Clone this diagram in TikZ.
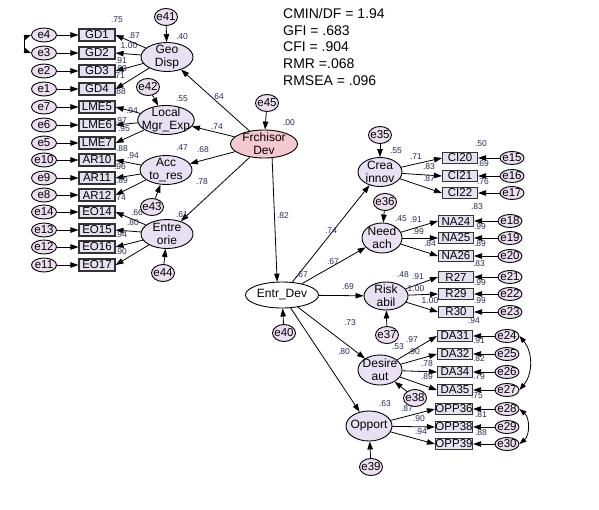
\documentclass[tikz,border=0pt]{standalone}
\usepackage{fontspec}
\setmainfont{Liberation Sans}
\usetikzlibrary{arrows.meta,shapes.geometric}
\definecolor{latfill}{RGB}{233,225,243}
\definecolor{efill}{RGB}{237,222,242}
\definecolor{obsfill}{RGB}{230,225,242}
\definecolor{fdfill}{RGB}{246,200,210}
\definecolor{lblc}{RGB}{35,45,85}
\begin{document}
\begin{tikzpicture}[x=1pt,y=-1pt,
  ev/.style={ellipse,draw,line width=0.9pt,fill=efill,minimum width=25pt,minimum height=14pt,inner sep=-2pt,font=\fontsize{11.5}{11.5}\selectfont},
  eb/.style={ev,minimum width=23pt,minimum height=17pt},
  ob/.style={rectangle,draw=black!80,line width=1.1pt,fill=obsfill,minimum width=36pt,minimum height=12pt,inner sep=0pt,font=\fontsize{11.5}{11.5}\selectfont},
  lat/.style={ellipse,draw,line width=0.9pt,fill=latfill,minimum width=52pt,minimum height=29pt,inner sep=-4pt,align=center,font=\fontsize{12}{13}\selectfont},
  latr/.style={lat,minimum width=45pt,minimum height=30pt},
  lb/.style={font=\fontsize{8.5}{8.5}\selectfont,text=lblc,inner sep=0pt},
  arr/.style={-{Triangle[length=8pt,width=5.5pt]},line width=0.8pt},
  cov/.style={{Triangle[length=7pt,width=5pt]}-{Triangle[length=7pt,width=5pt]},line width=0.8pt},
]
\useasboundingbox (0,0) rectangle (599,509);

% fit indices
\node[anchor=north west,align=left,inner sep=0pt,font=\fontsize{14}{16.7}\selectfont] (fit) at (283,8)
  {CMIN/DF = 1.94\\GFI = .683\\CFI = .904\\RMR =.068\\RMSEA = .096};

% left indicators
\foreach \r/\e/\y in {GD1/e4/35,GD2/e3/53,GD3/e2/71,GD4/e1/89,LME5/e7/107,LME6/e6/125,LME7/e5/143,
  AR10/e10/160,AR11/e9/178,AR12/e8/195,EO14/e14/212,EO15/e13/230,EO16/e12/247,EO17/e11/265}{
  \node[ob] (\r) at (97,\y) {\r};
  \node[ev] (\e) at (44,\y) {\e};
  \draw[arr] (\e) -- (\r);
}

% left latents
\node[lat] (geo) at (167,57) {Geo\\Disp};
\node[lat] (lme) at (166,120) {Local\\Mgr\_Exp};
\node[lat] (acc) at (166,170) {Acc\\to\_res};
\node[lat] (eo) at (167,234) {Entre\\orie};
\node[eb] (e41) at (166,17) {e41};
\node[eb] (e42) at (148,87) {e42};
\node[eb] (e43) at (152,207) {e43};
\node[eb] (e44) at (163,273) {e44};
\draw[arr] (e41) -- (geo);
\draw[arr] (e42) -- (lme);
\draw[arr] (e43) -- (acc);
\draw[arr] (e44) -- (eo);
\foreach \r in {GD1,GD2,GD3,GD4}{\draw[arr] (geo) -- (\r.east);}
\foreach \r in {LME5,LME6,LME7}{\draw[arr] (lme) -- (\r.east);}
\foreach \r in {AR10,AR11,AR12}{\draw[arr] (acc) -- (\r.east);}
\foreach \r in {EO14,EO15,EO16,EO17}{\draw[arr] (eo) -- (\r.east);}
\draw[cov] (e4.west) to[bend right=70] (e3.west);

% central
\node[lat,fill=fdfill,minimum width=67pt,minimum height=28pt,inner sep=-3pt] (fd) at (264,144) {Frchisor\\Dev};
\node[eb] (e45) at (267,103) {e45};
\draw[arr] (e45) -- (fd);
\draw[arr] (fd) -- (geo);
\draw[arr] (fd) -- (lme);
\draw[arr] (fd) -- (acc);
\draw[arr] (fd) -- (eo);
\node[ellipse,draw,line width=0.9pt,fill=white,minimum width=73pt,minimum height=26pt,inner sep=-1pt,font=\fontsize{12}{12}\selectfont] (ed) at (282,295) {Entr\_Dev};
\node[eb] (e40) at (284,333) {e40};
\draw[arr] (e40) -- (ed);
\draw[arr] (fd.-60) -- (ed.110);

% right latents
\node[latr,minimum width=44pt,minimum height=29pt] (ci) at (380,172) {Crea\\innov};
\node[latr,minimum width=40pt] (na) at (382,238) {Need\\ach};
\node[latr,minimum width=44pt,minimum height=28pt] (ra) at (386,296) {Risk\\abil};
\node[latr,minimum width=44pt,minimum height=30pt] (da) at (380,370) {Desire\\aut};
\node[latr,minimum width=46pt,minimum height=30pt] (op) at (369,426) {Opport};
\node[eb] (e35) at (380,135) {e35};
\node[eb] (e36) at (385,202) {e36};
\node[eb] (e37) at (387,335) {e37};
\node[eb] (e38) at (415,398) {e38};
\node[eb] (e39) at (371,467) {e39};
\draw[arr] (e35) -- (ci);
\draw[arr] (e36) -- (na);
\draw[arr] (e37) -- (ra);
\draw[arr] (e38) -- (da);
\draw[arr] (e39) -- (op);
\draw[arr] (ed) -- (ci);
\draw[arr] (ed) -- (na);
\draw[arr] (ed) -- (ra);
\draw[arr] (ed) -- (da);
\draw[arr] (ed) -- (op);

% right indicators
\foreach \r/\e/\x/\ex/\y/\L in {CI20/e15/460/512/158/ci,CI21/e16/460/512/176/ci,CI22/e17/460/512/193/ci,
  NA24/e18/456/510/221/na,NA25/e19/456/510/238/na,NA26/e20/456/510/256/na,
  R27/e21/456/510/277/ra,R29/e22/456/510/294/ra,R30/e23/456/510/312/ra,
  DA31/e24/455/507/336/da,DA32/e25/455/507/354/da,DA34/e26/455/507/372/da,DA35/e27/455/507/390/da,
  OPP36/e28/454/507/409/op,OPP38/e29/454/507/427/op,OPP39/e30/454/507/444/op}{
  \node[ob,minimum width=35pt,minimum height=11pt] (\r) at (\x,\y) {\r};
  \node[ev,minimum width=24pt,minimum height=13pt] (\e) at (\ex,\y) {\e};
  \draw[arr] (\e) -- (\r);
  \draw[arr] (\L) -- (\r.west);
}
\draw[cov] (e24.east) to[bend left=40] (e27.east);
\draw[cov] (e28.east) to[bend left=50] (e30.east);

% labels left
\node[lb] (l1) at (117,20) {.75};
\node[lb] (l2) at (134,36) {.87};
\node[lb] (l3) at (129,46) {1.00};
\node[lb] (l4) at (121,61) {.91};
\node[lb] (l5) at (121,69) {.83};
\node[lb] (l6) at (119,76) {.71};
\node[lb] (l7) at (120,92) {.88};
\node[lb] (l8) at (132,111) {.94};
\node[lb] (l9) at (121,121) {.97};
\node[lb] (l10) at (124,129) {.95};
\node[lb] (l11) at (122,149) {.88};
\node[lb] (l12) at (133,156) {.94};
\node[lb] (l13) at (120,167) {.96};
\node[lb] (l14) at (122,181) {.89};
\node[lb] (l15) at (120,198) {.74};
\node[lb] (l16) at (137,213) {.66};
\node[lb] (l17) at (133,223) {.80};
\node[lb] (l18) at (121,235) {.94};
\node[lb] (l19) at (121,252) {.90};
% structural
\node[lb] (s1) at (182,37) {.40};
\node[lb] (s2) at (218,97) {.64};
\node[lb] (s3) at (182,99) {.55};
\node[lb] (s4) at (217,127) {.74};
\node[lb] (s5) at (289,123) {.00};
\node[lb] (s6) at (182,148) {.47};
\node[lb] (s7) at (203,150) {.68};
\node[lb] (s8) at (202,182) {.78};
\node[lb] (s9) at (182,215) {.61};
\node[lb] (s10) at (283,216) {.82};
\node[lb] (s11) at (331,231) {.74};
\node[lb] (s12) at (333,262) {.67};
\node[lb] (s13) at (302,275) {.67};
\node[lb] (s14) at (348,287) {.69};
\node[lb] (s15) at (350,323) {.73};
\node[lb] (s16) at (344,352) {.80};
% right
\node[lb] (r1) at (396,151) {.55};
\node[lb] (r2) at (416,157) {.71};
\node[lb] (r3) at (481,144) {.50};
\node[lb] (r4) at (429,167) {.83};
\node[lb] (r5) at (429,179) {.87};
\node[lb] (r6) at (483,164) {.69};
\node[lb] (r7) at (483,182) {.76};
\node[lb] (r8) at (477,207) {.83};
\node[lb] (r9) at (401,219) {.45};
\node[lb] (r10) at (416,220) {.91};
\node[lb] (r11) at (418,232) {.99};
\node[lb] (r12) at (480,227) {.99};
\node[lb] (r13) at (480,244) {.89};
\node[lb] (r14) at (430,244) {.84};
\node[lb] (r15) at (479,264) {.83};
\node[lb] (r16) at (403,275) {.48};
\node[lb] (r17) at (418,277) {.91};
\node[lb] (r18) at (416,289) {1.00};
\node[lb] (r19) at (480,283) {.99};
\node[lb] (r20) at (430,301) {1.00};
\node[lb] (r21) at (480,301) {.99};
\node[lb] (r22) at (474,321) {.94};
\node[lb] (r23) at (412,340) {.97};
\node[lb] (r24) at (398,347) {.53};
\node[lb] (r25) at (414,352) {.90};
\node[lb] (r26) at (479,341) {.91};
\node[lb] (r27) at (479,359) {.82};
\node[lb] (r28) at (427,364) {.78};
\node[lb] (r29) at (427,377) {.89};
\node[lb] (r30) at (479,377) {.79};
\node[lb] (r31) at (477,396) {.75};
\node[lb] (r32) at (385,404) {.63};
\node[lb] (r33) at (407,409) {.87};
\node[lb] (r34) at (481,415) {.81};
\node[lb] (r35) at (419,419) {.90};
\node[lb] (r36) at (421,432) {.94};
\node[lb] (r37) at (481,433) {.88};
\end{tikzpicture}
\end{document}
